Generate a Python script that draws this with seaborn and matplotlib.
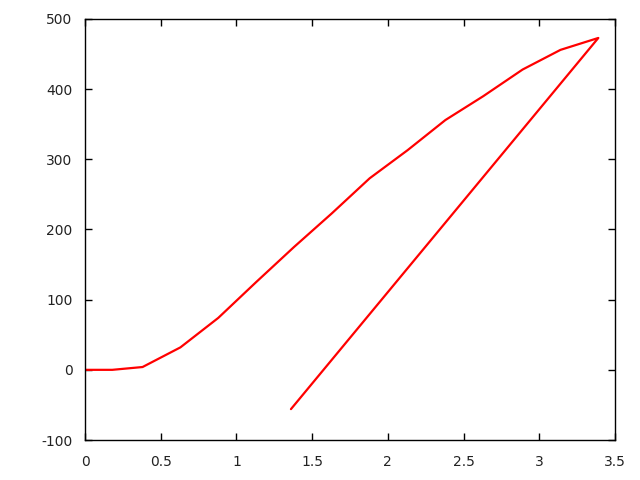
import matplotlib
matplotlib.use("Agg")
import matplotlib.pyplot as plt
import seaborn as sns
import pandas as pd

# values
x_vals = [0.0, 0.18, 0.38, 0.63, 0.88, 1.13, 1.38, 1.63, 1.88, 2.13, 2.38, 2.63, 2.89, 3.14, 3.39, 1.36]
y_vals = [0, 0, 4, 32, 74, 125, 175, 223, 273, 313, 356, 390, 428, 456, 473, -56]

x_ticks = [0, 0.5, 1, 1.5, 2, 2.5, 3, 3.5]
x_labels = ["0", "0.5", "1", "1.5", "2", "2.5", "3", "3.5"]
y_ticks = [-100, 0, 100, 200, 300, 400, 500]
y_labels = ["-100", "0", "100", "200", "300", "400", "500"]

data = pd.DataFrame({"x": x_vals, "y": y_vals})

sns.set_style("white")
plt.rcParams['font.family'] = ['DejaVu Sans']

fig = plt.figure(figsize=(6.4, 4.8), dpi=100)
ax = fig.add_axes([85 / 640, 40 / 480, 530 / 640, 421 / 480])
sns.lineplot(data=data, x="x", y="y", sort=False, estimator=None, color="red", linewidth=1.6, ax=ax)

ax.set_xlim(0, 3.5)
ax.set_ylim(-100, 500)
ax.set_xticks(x_ticks)
ax.set_xticklabels(x_labels)
ax.set_yticks(y_ticks)
ax.set_yticklabels(y_labels)
ax.set_xlabel("")
ax.set_ylabel("")
for s in ax.spines.values():
    s.set_color("black")
    s.set_linewidth(1.0)
ax.tick_params(direction="in", length=5, width=1, color="black", labelsize=10,
               top=True, right=True, bottom=True, left=True, labelcolor="#222222")
ax.tick_params(axis="x", pad=11)
ax.tick_params(axis="y", pad=9)

fig.savefig("out.png", dpi=100, facecolor="white")
